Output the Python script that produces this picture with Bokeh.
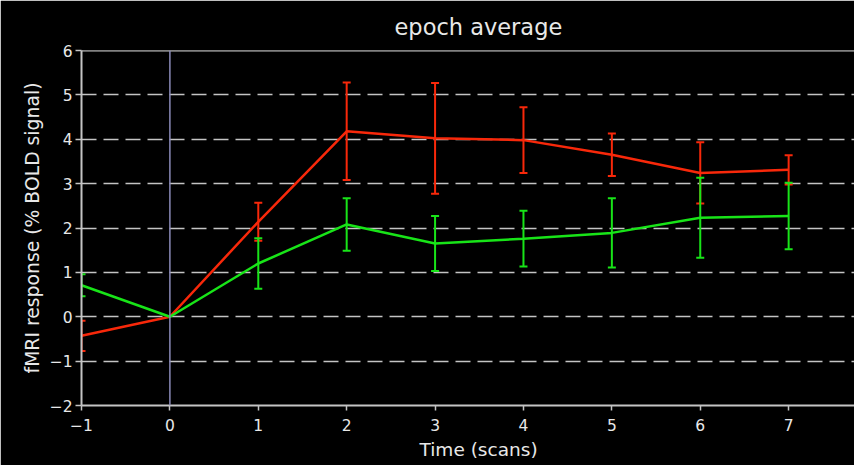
from bokeh.plotting import figure
from bokeh.models import ColumnDataSource, Whisker, TeeHead, Span, Title, FixedTicker, Range1d
from bokeh.embed import file_html
from bokeh.resources import INLINE

# ---- data ----
time_scans = [-1, 0, 1, 2, 3, 4, 5, 6, 7]
red_mean = [-0.43, 0.0, 2.14, 4.18, 4.02, 3.98, 3.65, 3.24, 3.31]
red_err = [0.34, 0.0, 0.43, 1.10, 1.25, 0.74, 0.48, 0.69, 0.33]
green_mean = [0.71, 0.0, 1.20, 2.08, 1.65, 1.76, 1.89, 2.23, 2.27]
green_err = [0.25, 0.0, 0.57, 0.59, 0.62, 0.63, 0.78, 0.90, 0.75]
x_ticks = [-1, 0, 1, 2, 3, 4, 5, 6, 7]
y_ticks = [-2, -1, 0, 1, 2, 3, 4, 5, 6]
grid_levels = [-1, 0, 1, 2, 3, 4, 5]

title_text = "epoch average"
x_label = "Time (scans)"
y_label = "fMRI response (% BOLD signal)"

RED = "#f8280a"
GREEN = "#18e418"
GREY = "#c4c4c4"
TXT = "#e8e8e8"
FONT = "DejaVu Sans"

p = figure(width=854, height=465, output_backend="svg", toolbar_location=None,
           x_range=Range1d(-1, 7.745), y_range=Range1d(-2, 6),
           min_border_left=81, min_border_right=0, min_border_top=50, min_border_bottom=60)
p.background_fill_color = "black"
p.border_fill_color = "black"
p.outline_line_color = None

# axes
for ax in (p.xaxis[0], p.yaxis[0]):
    ax.axis_line_color = GREY
    ax.axis_line_width = 2
    ax.major_tick_line_color = GREY
    ax.major_tick_line_width = 1.5
    ax.major_tick_in = 0
    ax.minor_tick_line_color = None
    ax.major_label_text_color = TXT
    ax.major_label_text_font = FONT
    ax.major_label_text_font_size = "15.5px"
p.xaxis.major_tick_out = 5
p.yaxis.major_tick_out = 6
p.xaxis.ticker = FixedTicker(ticks=x_ticks)
p.yaxis.ticker = FixedTicker(ticks=y_ticks)
p.xaxis.major_label_standoff = 8
p.yaxis.major_label_standoff = 3
p.yaxis.axis_label = y_label
p.yaxis.axis_label_text_color = TXT
p.yaxis.axis_label_text_font = FONT
p.yaxis.axis_label_text_font_size = "18.8px"
p.yaxis.axis_label_text_font_style = "normal"
p.yaxis.axis_label_standoff = 4

p.xgrid.grid_line_color = None
p.ygrid.ticker = FixedTicker(ticks=grid_levels)
p.ygrid.grid_line_color = GREY
p.ygrid.grid_line_dash = "15 7"
p.ygrid.grid_line_width = 1.5

# top frame line and zero-time marker
p.add_layout(Span(location=y_ticks[-1], dimension="width", line_color=GREY, line_width=2))
p.add_layout(Span(location=0, dimension="height", line_color="#8a8ab8", line_width=1.5))

# series
def add_series(mean, err, color):
    src = ColumnDataSource(dict(x=time_scans, y=mean))
    p.line("x", "y", source=src, line_color=color, line_width=2.5)
    xs = [t for t, e in zip(time_scans, err) if e > 0]
    up = [m + e for m, e in zip(mean, err) if e > 0]
    lo = [m - e for m, e in zip(mean, err) if e > 0]
    wsrc = ColumnDataSource(dict(base=xs, upper=up, lower=lo))
    w = Whisker(base="base", upper="upper", lower="lower", source=wsrc,
                line_color=color, line_width=2,
                upper_head=TeeHead(size=8, line_color=color, line_width=2),
                lower_head=TeeHead(size=8, line_color=color, line_width=2))
    p.add_layout(w)

add_series(red_mean, red_err, RED)
add_series(green_mean, green_err, GREEN)

# title above and x label below (frame is cropped on the right, so offsets centre them
# where the original full-width frame had its centre)
p.add_layout(Title(text=title_text, align="left", offset=313, standoff=20,
                   vertical_align="middle",
                   text_color=TXT, text_font=FONT, text_font_size="22.5px",
                   text_font_style="normal"), "above")
p.add_layout(Title(text=x_label, align="left", offset=338, standoff=7,
                   text_color=TXT, text_font=FONT, text_font_size="18.5px",
                   text_font_style="normal"), "below")

open("out.html", "w").write(file_html(p, INLINE))
